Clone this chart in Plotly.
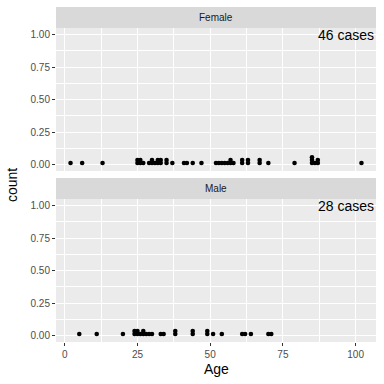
import plotly.graph_objects as go
from collections import Counter

female_ages = [2, 6, 13,
               25, 25, 26, 26, 27,
               29, 30, 30, 31,
               32, 32, 33, 33,
               35, 35, 37,
               41, 42, 44, 47,
               52, 53, 54, 55, 56, 57, 57, 58,
               61, 61, 63, 63, 67, 67, 70,
               79,
               85, 85, 85, 86, 87, 87,
               102]
male_ages = [5, 11, 20,
             24, 24, 25, 25, 26, 27, 27, 28, 29, 30,
             33, 34, 38, 38, 44, 44, 49, 49, 51, 54,
             61, 62, 64, 70, 71]
panels = ["Female", "Male"]
case_labels = [f"{len(female_ages)} cases", f"{len(male_ages)} cases"]
x_ticks = [0, 25, 50, 75, 100]
y_ticks = [0.0, 0.25, 0.5, 0.75, 1.0]

STEP = 0.022
BASE = 0.012


def stacked(ages):
    seen = Counter()
    xs, ys = [], []
    for a in sorted(ages):
        xs.append(a)
        ys.append(BASE + STEP * seen[a])
        seen[a] += 1
    return xs, ys


fig = go.Figure()
H = 314.0
dom_f = [(342 - 171) / H, 1.0]
dom_m = [0.0, 143 / H]

for i, ages in enumerate([female_ages, male_ages]):
    xs, ys = stacked(ages)
    fig.add_trace(go.Scatter(
        x=xs, y=ys, mode="markers",
        marker=dict(color="black", size=4.6, line=dict(width=0)),
        xaxis="x" if i == 0 else "x2", yaxis="y" if i == 0 else "y2",
        showlegend=False, hoverinfo="skip"))

axis_common = dict(range=[-3, 107], tickvals=x_ticks, showgrid=True,
                   gridcolor="white", gridwidth=1.1, zeroline=False, automargin=False,
                   minor=dict(dtick=12.5, tick0=0, showgrid=True, gridcolor="white", gridwidth=0.5),
                   showline=False)
yaxis_common = dict(range=[-0.05, 1.05], tickvals=y_ticks, tickformat=".2f", automargin=False,
                    showgrid=True, gridcolor="white", gridwidth=1.1, zeroline=False,
                    minor=dict(dtick=0.125, tick0=0, showgrid=True, gridcolor="white", gridwidth=0.5),
                    ticks="outside", ticklen=3, tickcolor="#333333",
                    tickfont=dict(size=10, color="#4D4D4D"), showline=False)

fig.update_layout(
    width=384, height=384,
    margin=dict(l=56, r=8, t=28, b=42, autoexpand=False),
    paper_bgcolor="white", plot_bgcolor="#EBEBEB",
    font=dict(family="Liberation Sans, Arial, sans-serif"),
    xaxis=dict(**axis_common, domain=[0, 1], anchor="y", showticklabels=False, ticks=""),
    yaxis=dict(**yaxis_common, domain=dom_f, anchor="x"),
    xaxis2=dict(**axis_common, domain=[0, 1], anchor="y2", showticklabels=True,
                ticks="outside", ticklen=3, tickcolor="#333333",
                tickfont=dict(size=10, color="#4D4D4D")),
    yaxis2=dict(**yaxis_common, domain=dom_m, anchor="x2"),
)

strips = [(1.0, (342 - 7) / H), (dom_m[1], (342 - 178) / H)]
shapes = []
annotations = []
for name, (y0, y1) in zip(panels, strips):
    shapes.append(dict(type="rect", xref="paper", yref="paper", x0=0, x1=1, y0=y0, y1=y1,
                       fillcolor="#D9D9D9", line=dict(width=0), layer="below"))
    annotations.append(dict(text=name, xref="paper", yref="paper", x=0.5, y=(y0 + y1) / 2,
                            showarrow=False, xanchor="center", yanchor="middle",
                            font=dict(size=10, color="#1A1A1A")))

for lbl, xr, yr in zip(case_labels, ["x", "x2"], ["y", "y2"]):
    annotations.append(dict(text=lbl, xref=xr, yref=yr, x=107, y=1.0, showarrow=False,
                            xanchor="right", yanchor="middle", font=dict(size=14, color="black")))

annotations.append(dict(text="Age", xref="paper", yref="paper", x=0.5, y=(342 - 369) / H,
                        showarrow=False, xanchor="center", yanchor="middle",
                        font=dict(size=14, color="black")))
annotations.append(dict(text="count", xref="paper", yref="paper", x=(12 - 56) / 320.0, y=0.5,
                        showarrow=False, xanchor="center", yanchor="middle", textangle=-90,
                        font=dict(size=14, color="black")))

fig.update_layout(shapes=shapes, annotations=annotations)
fig.write_html("out.html", config={"displayModeBar": False},
               post_script="document.body.style.margin='0';document.body.style.overflow='hidden';")
